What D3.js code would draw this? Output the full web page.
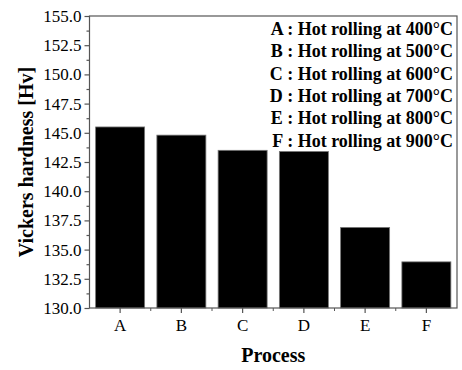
<!DOCTYPE html>
<html lang="en">
<head>
  <meta charset="UTF-8">
  <title>Vickers hardness by process</title>
  <script src="https://d3js.org/d3.v7.min.js"></script>
  <style>
    body { background: #fff; margin: 0; }
    svg { display: block; }
    text { font-family: "Liberation Serif", "Times New Roman", serif; fill: #000; }
    .tick-label { font-size: 17px; }
    .title { font-size: 20px; font-weight: bold; }
    .legend { font-size: 18px; font-weight: bold; }
    .bar { fill: #000; stroke: #777; stroke-width: 0.8; }
    .frame { fill: none; stroke: #555; stroke-width: 1.2; }
  </style>
</head>
<body>
  <svg width="462" height="370"></svg>

  <script>
const processes = ["A", "B", "C", "D", "E", "F"];
const hardness = [145.5, 144.8, 143.5, 143.4, 136.9, 133.95];
const yTicks = [130, 132.5, 135, 137.5, 140, 142.5, 145, 147.5, 150, 152.5, 155];
const legendLines = [
  "A : Hot rolling at 400°C",
  "B : Hot rolling at 500°C",
  "C : Hot rolling at 600°C",
  "D : Hot rolling at 700°C",
  "E : Hot rolling at 800°C",
  "F : Hot rolling at 900°C"
];

const svg = d3.select("svg");
const plotLeft = 89.5, plotRight = 457, plotTop = 16, plotBottom = 308;

const x = d3.scaleBand()
  .domain(processes)
  .range([plotLeft, plotRight])
  .paddingInner(0.2)
  .paddingOuter(0.1);

const y = d3.scaleLinear()
  .domain([130, 155])
  .range([plotBottom, plotTop]);

// bars
svg.selectAll(".bar")
  .data(processes)
  .enter()
  .append("rect")
  .attr("class", "bar")
  .attr("x", d => x(d))
  .attr("width", x.bandwidth())
  .attr("y", (d, i) => y(hardness[i]))
  .attr("height", (d, i) => y(130) - y(hardness[i]));

// frame
svg.append("rect")
  .attr("class", "frame")
  .attr("x", plotLeft)
  .attr("y", plotTop)
  .attr("width", plotRight - plotLeft)
  .attr("height", plotBottom - plotTop);

// y axis, major + minor ticks
svg.append("g")
  .attr("transform", `translate(${plotLeft},0)`)
  .call(d3.axisLeft(y).tickValues(yTicks).tickFormat(d3.format(".1f")).tickSize(5).tickPadding(3));

const minorY = d3.range(131.25, 155, 2.5);
svg.append("g")
  .attr("transform", `translate(${plotLeft},0)`)
  .call(d3.axisLeft(y).tickValues(minorY).tickFormat("").tickSize(3));

// x axis, major ticks at centres, minor at band edges
svg.append("g")
  .attr("transform", `translate(0,${plotBottom})`)
  .call(d3.axisBottom(x).tickSize(5).tickPadding(6).tickSizeOuter(0));

const gapHalf = (x.step() - x.bandwidth()) / 2;
const edges = processes.slice(1).map(p => x(p) - gapHalf);
svg.append("g")
  .attr("transform", `translate(0,${plotBottom})`)
  .selectAll("line")
  .data(edges)
  .enter()
  .append("line")
  .attr("x1", d => d)
  .attr("x2", d => d)
  .attr("y1", 0)
  .attr("y2", 3)
  .attr("stroke", "#555");

svg.selectAll(".domain").remove();
svg.selectAll(".tick line").attr("stroke", "#555").attr("stroke-width", 1.2);
svg.selectAll(".tick text")
  .attr("class", "tick-label")
  .attr("font-family", null)
  .attr("font-size", null);
svg.selectAll("g").attr("font-family", null).attr("font-size", null);

// axis titles
svg.append("text")
  .attr("class", "title")
  .attr("x", (plotLeft + plotRight) / 2)
  .attr("y", 362)
  .attr("text-anchor", "middle")
  .text("Process");

svg.append("text")
  .attr("class", "title")
  .attr("transform", `translate(33,${(plotTop + plotBottom) / 2}) rotate(-90)`)
  .attr("text-anchor", "middle")
  .text("Vickers hardness [Hv]");

// legend text (right aligned)
svg.selectAll(".legend")
  .data(legendLines)
  .enter()
  .append("text")
  .attr("class", "legend")
  .attr("x", 453)
  .attr("y", (d, i) => 35 + i * 22.3)
  .attr("text-anchor", "end")
  .text(d => d);
  </script>
</body>
</html>
